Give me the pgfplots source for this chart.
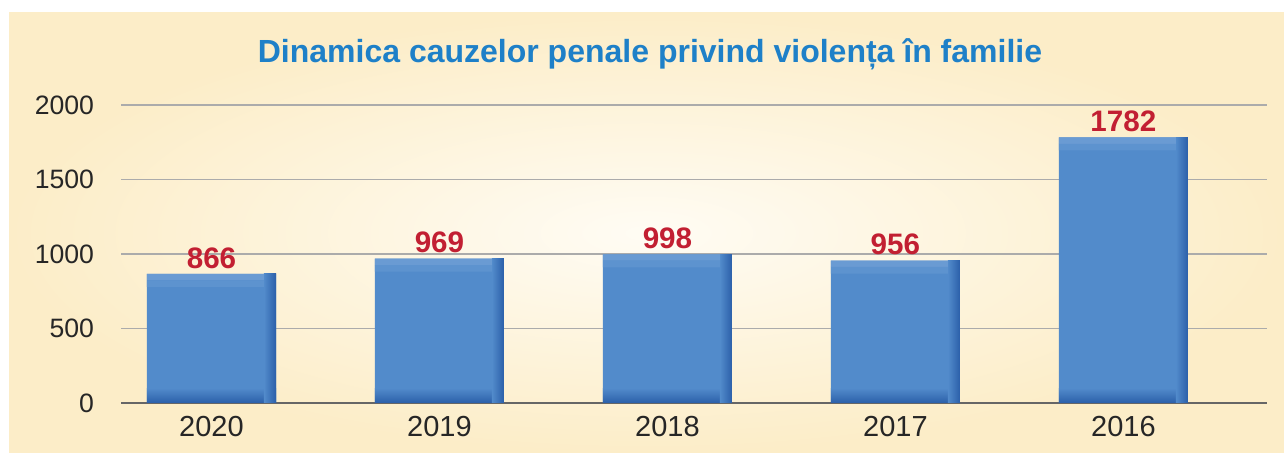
\documentclass[border=0pt]{standalone}
\usepackage{pgfplots}
\usepackage{pgfplotstable}
\pgfplotsset{compat=1.18}
\usepackage{fontspec}
\setmainfont{Liberation Sans}
\definecolor{bgedge}{HTML}{FCEDC8}
\definecolor{bgmid}{HTML}{FFFCF4}
\definecolor{barblue}{HTML}{528BCB}
\definecolor{bardark}{HTML}{2B5FA9}
\definecolor{barmid}{HTML}{5D93CF}
\definecolor{barlight}{HTML}{6A9BD3}
\definecolor{titleblue}{HTML}{1E80C8}
\definecolor{valred}{HTML}{C21F32}
\definecolor{gridgray}{HTML}{ABABAB}
\pgfplotsset{
  commonaxis/.style={
    at={(60.5pt,25pt)}, anchor=south west,
    scale only axis, width=573pt, height=149pt,
    xmin=-0.397, xmax=4.63, ymin=0, ymax=2000,
  }
}
\pgfplotstableread{
x v base
0 866 100
1 969 100
2 998 100
3 956 100
4 1782 100
}\datatable
\pgfplotstableread{
x rest mid light
0 779 44 43
1 882 44 43
2 911 44 43
3 869 44 43
4 1695 44 43
}\striptable
\begin{document}
\begin{tikzpicture}[x=0.5pt,y=0.5pt]
\fill[white] (0,0) rectangle (1284,453);
\shade[inner color=bgmid, outer color=bgedge] (9,0) rectangle (1284,440);
\node[font=\bfseries\fontsize{16}{19}\selectfont, text=titleblue] at (650,399) {Dinamica cauzelor penale privind violența în familie};
\begin{axis}[
  commonaxis,
  ytick={0,500,1000,1500,2000},
  xtick={0,1,2,3,4},
  xticklabels={2020,2019,2018,2017,2016},
  /pgf/number format/assume math mode=true,
  ymajorgrids, grid style={gridgray, line width=0.6pt},
  axis lines*=left,
  y axis line style={draw=none},
  x axis line style={draw=gray!80!black, line width=0.7pt, -},
  major tick length=0pt,
  tick label style={text=black!85},
  yticklabel style={font=\fontsize{13.3}{16}\selectfont, xshift=-10pt},
  xticklabel style={font=\fontsize{14.5}{17}\selectfont, yshift=-3pt},
  /pgf/number format/1000 sep={},
  ybar, bar width=0.566,
]
\addplot[fill=barblue, draw=none, bar shift=0pt, nodes near coords,
  every node near coord/.append style={font=\bfseries\fontsize{14.8}{17}\selectfont, text=valred, inner sep=2.5pt}]
  table[x=x, y=v] {\datatable};
\pgfplotsinvokeforeach{0,...,4}{
  \addplot[draw=none, shade, top color=barblue, bottom color=bardark, bar shift=0pt,
    x filter/.expression={\coordindex==#1 ? x : nan}]
    table[x=x, y=base] {\datatable};
  \addplot[draw=none, shade, left color=barblue, right color=bardark, bar width=0.053, bar shift=0.2565,
    x filter/.expression={\coordindex==#1 ? x : nan}]
    table[x=x, y=v] {\datatable};
}
\end{axis}
\begin{axis}[
  commonaxis, hide axis,
  ybar stacked, bar width=0.513, bar shift=-0.0265,
]
\addplot[draw=none, fill=none] table[x=x, y=rest] {\striptable};
\addplot[draw=none, fill=barmid] table[x=x, y=mid] {\striptable};
\addplot[draw=none, fill=barlight] table[x=x, y=light] {\striptable};
\end{axis}
\end{tikzpicture}
\end{document}
